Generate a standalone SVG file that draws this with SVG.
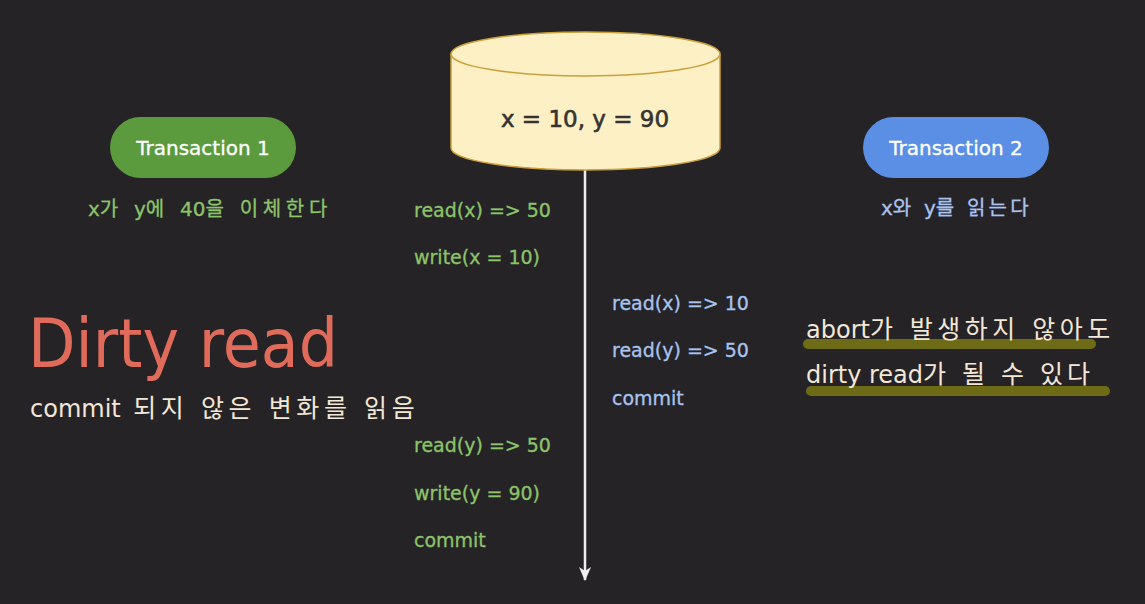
<svg xmlns="http://www.w3.org/2000/svg" width="1145" height="604" viewBox="0 0 1145 604">
  <style>
    text { font-family: "DejaVu Sans", "Noto Sans CJK KR", sans-serif; }
    .pill-label { fill: #ffffff; font-size: 20px; text-anchor: middle; stroke: #ffffff; stroke-width: 0.3; }
    .t1 { fill: #8cc46a; font-size: 19px; stroke: #8cc46a; stroke-width: 0.3; }
    .t2 { fill: #a9c4ef; font-size: 19px; stroke: #a9c4ef; stroke-width: 0.3; }
    .sub { font-size: 20px; stroke-width: 0.3; }
    .note { fill: #f3e7d6; font-size: 24px; }
    .ko { font-size: 25px; }
    .mark { fill: #6e6b17; }
  </style>
  <defs>
    <!-- arrowhead drawn along +x so orient="auto" points it down the line -->
    <marker id="arrow" viewBox="0 0 14 12" refX="13" refY="6" markerWidth="14" markerHeight="12" markerUnits="userSpaceOnUse" orient="auto">
      <path d="M0,0 L14,6 L0,12 L4,6 Z" fill="#eeeeee"/>
    </marker>
  </defs>

  <rect x="0" y="0" width="1145" height="604" fill="#252326"/>

  <!-- timeline -->
  <g id="connectors">
    <line x1="585" y1="170" x2="585" y2="580" stroke="#eeeeee" stroke-width="2.5" marker-end="url(#arrow)"/>
  </g>

  <!-- database cylinder -->
  <g id="database">
    <path d="M451,54 L451,148 A134.5,22 0 0 0 720,148 L720,54" fill="#fdf0c5" stroke="#c9a03c" stroke-width="1.5"/>
    <ellipse cx="585.5" cy="54" rx="134.5" ry="22" fill="#fdf0c5" stroke="#c9a03c" stroke-width="1.5"/>
    <text x="585" y="127" font-size="23" fill="#353331" stroke="#353331" stroke-width="0.6" text-anchor="middle">x = 10, y = 90</text>
  </g>

  <g id="transaction1">
    <rect x="110" y="117" width="186" height="61" rx="30.5" fill="#5b9b3d"/>
    <text class="pill-label" x="203" y="155">Transaction 1</text>
    <text class="sub" x="88" y="216" fill="#8cc46a" stroke="#8cc46a">x<tspan letter-spacing="4.7">가 </tspan>y<tspan letter-spacing="4.7">에 </tspan>40<tspan letter-spacing="4.7">을 이체한다</tspan></text>
  </g>

  <g id="transaction2">
    <rect x="863" y="117" width="186" height="61" rx="30.5" fill="#5b8fe6"/>
    <text class="pill-label" x="956" y="155">Transaction 2</text>
    <text class="sub" x="881" y="215" fill="#a9c4ef" stroke="#a9c4ef">x<tspan letter-spacing="3.2">와 </tspan>y<tspan letter-spacing="3.2">를 읽는다</tspan></text>
  </g>

  <g id="t1-ops">
    <text class="t1" x="414" y="217">read(x) =&gt; 50</text>
    <text class="t1" x="414" y="264">write(x = 10)</text>
    <text class="t1" x="414" y="452">read(y) =&gt; 50</text>
    <text class="t1" x="414" y="500">write(y = 90)</text>
    <text class="t1" x="414" y="547">commit</text>
  </g>

  <g id="t2-ops">
    <text class="t2" x="612" y="310">read(x) =&gt; 10</text>
    <text class="t2" x="612" y="357">read(y) =&gt; 50</text>
    <text class="t2" x="612" y="405">commit</text>
  </g>

  <g id="title">
    <text x="28" y="367" font-size="68" fill="#e06b5b" textLength="310" lengthAdjust="spacingAndGlyphs">Dirty read</text>
    <text class="note" x="30" y="417">commit<tspan class="ko" letter-spacing="4.6"> 되지 않은 변화를 읽음</tspan></text>
  </g>

  <g id="remark">
    <rect class="mark" x="803" y="339" width="293" height="10" rx="5"/>
    <rect class="mark" x="806" y="386" width="304" height="10" rx="5"/>
    <text class="note" x="806" y="338">abort<tspan class="ko" letter-spacing="4.5">가 발생하지 않아도</tspan></text>
    <text class="note" x="806" y="383">dirty read<tspan class="ko" letter-spacing="4">가 될 수 있다</tspan></text>
  </g>
</svg>
